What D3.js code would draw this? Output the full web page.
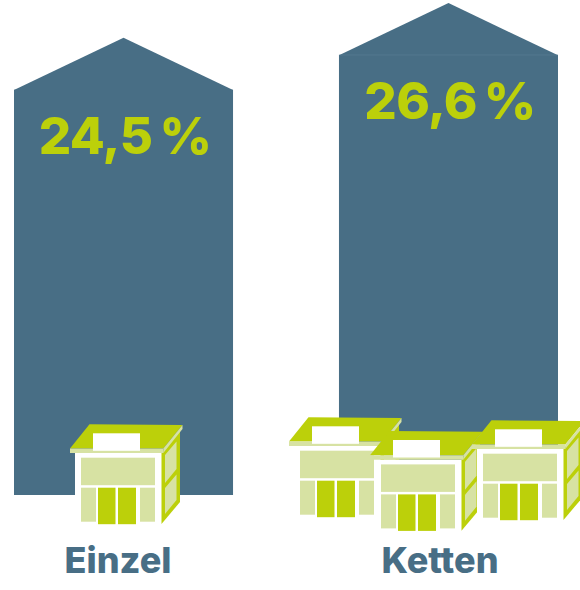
<!DOCTYPE html>
<html><head><meta charset="utf-8">
<script src="https://d3js.org/d3.v7.min.js"></script>
<style>html,body{margin:0;padding:0;background:#fff}svg{display:block}text{font-family:Inter,"Open Sans",sans-serif}</style>
</head><body><svg id="c" width="580" height="590"></svg>
<script>
const categories = ["Einzel", "Ketten"];
const values = [24.5, 26.6];
const valueLabels = ["24,5\u2009%", "26,6\u2009%"];
const shopCounts = [1, 3];

const BLUE="#486e85", GREEN="#bcd00a", LIGHT="#d7e2a3";
const svg=d3.select("#c");
const x=d3.scaleBand().domain(categories).range([14,558]).paddingInner(0.326);
const y=d3.scaleLinear().domain([0,26.6]).range([495,55]);
const roofH=52;

const bars=svg.selectAll("g.bar").data(categories).join("g").attr("class","bar");
bars.append("rect").attr("x",d=>x(d)).attr("width",x.bandwidth())
  .attr("y",(d,i)=>y(values[i])).attr("height",(d,i)=>y(0)-y(values[i])).attr("fill",BLUE);
bars.append("path").attr("fill",BLUE).attr("d",(d,i)=>{
  const t=y(values[i]);
  return d3.line()([[x(d),t+0.3],[x(d)+x.bandwidth()/2,t-roofH],[x(d)+x.bandwidth(),t+0.3]])+"Z";
});
svg.append("line").attr("x1",x("Ketten")).attr("x2",x("Ketten")+x.bandwidth())
  .attr("y1",y(26.6)).attr("y2",y(26.6)).attr("stroke","#5d8097").attr("stroke-width",0.6);

bars.append("text").attr("x",d=>x(d)+x.bandwidth()/2+1.5).attr("y",(d,i)=>y(values[i])+64)
  .attr("text-anchor","middle").attr("fill",GREEN).attr("font-size",51).attr("font-weight",800)
  .attr("letter-spacing",-0.6).text((d,i)=>valueLabels[i]);
svg.selectAll("text.cat").data(categories).join("text").attr("class","cat")
  .attr("x",(d,i)=>i?440:118).attr("y",573).attr("text-anchor","middle")
  .attr("fill",BLUE).attr("font-size",36).attr("font-weight",800).text(d=>d);

// shop pictogram, drawn at a given offset
function shop(dx,dy){
  const g=svg.append("g").attr("transform",`translate(${dx},${dy})`);
  const poly=(pts,fill)=>g.append("polygon").attr("points",pts.join(" ")).attr("fill",fill);
  const rect=(a,b,w,h,fill)=>g.append("rect").attr("x",a).attr("y",b).attr("width",w).attr("height",h).attr("fill",fill);
  rect(75,453,87,71,"#fff");
  poly(["161.5,453","180,430","180,502","161.5,524"],GREEN);
  poly(["165,455","176.5,441.5","176.5,469","165,483"],LIGHT);
  poly(["165,488","176.5,474.5","176.5,500","165,514"],LIGHT);
  poly(["89.5,424.3","182.5,425","163.3,448.5","70,448.5"],GREEN);
  poly(["70,448.5","163.3,448.5","163.3,453","70,453"],LIGHT);
  poly(["182.5,425","182.5,429","163.3,453","163.3,448.5"],LIGHT);
  rect(93,433.3,47,17.5,"#fff");
  rect(81,457.7,74,27.5,LIGHT);
  rect(81,487.7,15,34,LIGHT);
  rect(140,487.7,15,34,LIGHT);
  rect(98,487.7,17.5,36.5,GREEN);
  rect(118,487.7,18,36.5,GREEN);
}
const shopOffsets=[[[0,0]],[[219,-7],[300,6.7],[402,-4]]];
shopCounts.forEach((n,i)=>shopOffsets[i].slice(0,n).forEach(o=>shop(o[0],o[1])));
</script></body></html>
